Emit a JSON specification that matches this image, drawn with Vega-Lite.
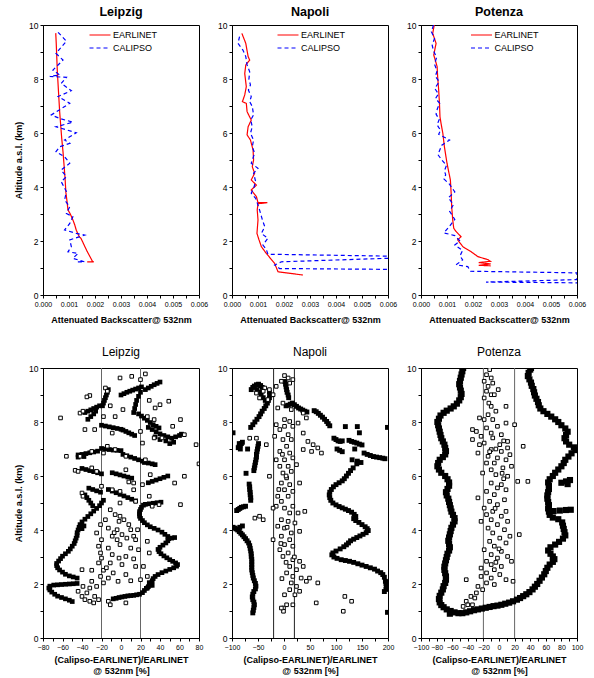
{
"$schema":"https://vega.github.io/schema/vega-lite/v6.json",
"padding":{"left":14,"top":5,"right":5,"bottom":2},
"config":{"font":"Liberation Sans","view":{"stroke":"black","strokeWidth":1},
"axis":{"grid":false,"domainColor":"black","tickColor":"black","tickSize":3,"labelColor":"black","titleColor":"black","labelFontSize":8,"titleFontSize":9,"titleFontWeight":"bold","labelPadding":2,"labelOverlap":false,"labelFlush":false},
"axisX":{"labelFontSize":7,"labelAngle":0,"titlePadding":8},
"axisY":{"labelFontSize":8.5,"titlePadding":5},
"title":{"fontSize":12.5,"fontWeight":"bold","color":"black","offset":3},
"legend":{"labelFontSize":9,"labelColor":"black","padding":0}},
"concat":[
{"width":156,"height":270,"title":{"text":"Leipzig"},"data":{"name":"Lt"},
"mark":{"type":"line","strokeWidth":1.2,"clip":true},
"encoding":{
"x":{"field":"b","type":"quantitative","scale":{"domain":[0,0.006],"nice":false},"axis":{"title":"Attenuated Backscatter@ 532nm","tickCount":50,"values":[0,0.0005,0.001,0.0015,0.002,0.0025,0.003,0.0035,0.004,0.0045,0.005,0.0055,0.006],"labelExpr":"abs(round(datum.value*1000)-datum.value*1000)<0.01 ? format(datum.value,'.3f') : ''"}},
"y":{"field":"h","type":"quantitative","scale":{"domain":[0,10],"nice":false},"axis":{"title":"Altitude a.s.l. (km)","tickCount":50,"values":[0,1,2,3,4,5,6,7,8,9,10],"labelExpr":"datum.value % 2 == 0 ? format(datum.value,'d') : ''"}},
"stroke":{"field":"s","type":"nominal","scale":{"domain":["EARLINET","CALIPSO"],"range":["#ff0000","#0000ff"]},"legend":{"orient":"none","legendX":50,"legendY":3,"title":null,"symbolType":"M-1.75,0H1.75","symbolSize":144,"symbolStrokeWidth":1.2,"labelOffset":6,"rowPadding":1,"encode":{"symbols":{"update":{"stroke":{"signal":"datum.value === 'CALIPSO' ? '#0000ff' : '#ff0000'"},"strokeDash":{"signal":"datum.value === 'CALIPSO' ? [4,3] : [1,0]"}}}}}},
"strokeDash":{"field":"s","type":"nominal","scale":{"domain":["EARLINET","CALIPSO"],"range":[[1,0],[4,3]]},"legend":null},
"order":{"value":null}}},
{"width":156,"height":270,"title":{"text":"Napoli"},"data":{"name":"Nt"},
"mark":{"type":"line","strokeWidth":1.2,"clip":true},
"encoding":{
"x":{"field":"b","type":"quantitative","scale":{"domain":[0,0.006],"nice":false},"axis":{"title":"Attenuated Backscatter@ 532nm","tickCount":50,"values":[0,0.0005,0.001,0.0015,0.002,0.0025,0.003,0.0035,0.004,0.0045,0.005,0.0055,0.006],"labelExpr":"abs(round(datum.value*1000)-datum.value*1000)<0.01 ? format(datum.value,'.3f') : ''"}},
"y":{"field":"h","type":"quantitative","scale":{"domain":[0,10],"nice":false},"axis":{"title":null,"tickCount":50,"values":[0,1,2,3,4,5,6,7,8,9,10],"labelExpr":"datum.value % 2 == 0 ? format(datum.value,'d') : ''"}},
"stroke":{"field":"s","type":"nominal","scale":{"domain":["EARLINET","CALIPSO"],"range":["#ff0000","#0000ff"]},"legend":{"orient":"none","legendX":49,"legendY":3,"title":null,"symbolType":"M-1.75,0H1.75","symbolSize":144,"symbolStrokeWidth":1.2,"labelOffset":6,"rowPadding":1,"encode":{"symbols":{"update":{"stroke":{"signal":"datum.value === 'CALIPSO' ? '#0000ff' : '#ff0000'"},"strokeDash":{"signal":"datum.value === 'CALIPSO' ? [4,3] : [1,0]"}}}}}},
"strokeDash":{"field":"s","type":"nominal","scale":{"domain":["EARLINET","CALIPSO"],"range":[[1,0],[4,3]]},"legend":null},
"order":{"value":null}}},
{"width":156,"height":270,"title":{"text":"Potenza"},"data":{"name":"Pt"},
"mark":{"type":"line","strokeWidth":1.2,"clip":true},
"encoding":{
"x":{"field":"b","type":"quantitative","scale":{"domain":[0,0.006],"nice":false},"axis":{"title":"Attenuated Backscatter@ 532nm","tickCount":50,"values":[0,0.0005,0.001,0.0015,0.002,0.0025,0.003,0.0035,0.004,0.0045,0.005,0.0055,0.006],"labelExpr":"abs(round(datum.value*1000)-datum.value*1000)<0.01 ? format(datum.value,'.3f') : ''"}},
"y":{"field":"h","type":"quantitative","scale":{"domain":[0,10],"nice":false},"axis":{"title":null,"tickCount":50,"values":[0,1,2,3,4,5,6,7,8,9,10],"labelExpr":"datum.value % 2 == 0 ? format(datum.value,'d') : ''"}},
"stroke":{"field":"s","type":"nominal","scale":{"domain":["EARLINET","CALIPSO"],"range":["#ff0000","#0000ff"]},"legend":{"orient":"none","legendX":53.5,"legendY":3,"title":null,"symbolType":"M-1.75,0H1.75","symbolSize":144,"symbolStrokeWidth":1.2,"labelOffset":6,"rowPadding":1,"encode":{"symbols":{"update":{"stroke":{"signal":"datum.value === 'CALIPSO' ? '#0000ff' : '#ff0000'"},"strokeDash":{"signal":"datum.value === 'CALIPSO' ? [4,3] : [1,0]"}}}}}},
"strokeDash":{"field":"s","type":"nominal","scale":{"domain":["EARLINET","CALIPSO"],"range":[[1,0],[4,3]]},"legend":null},
"order":{"value":null}}},
{"width":156,"height":270,"title":{"text":"Leipzig","fontWeight":"normal","fontSize":12,"offset":5},
"layer":[
{"data":{"values":[{"x":-20},{"x":20}]},"mark":{"type":"rule","color":"#666","strokeWidth":1},"encoding":{"x":{"field":"x","type":"quantitative","scale":{"domain":[-80,80],"nice":false},"axis":{"title":["(Calipso-EARLINET)/EARLINET","@ 532nm [%]"],"titleLineHeight":11,"titlePadding":5,"tickCount":50,"values":[-80,-70,-60,-50,-40,-30,-20,-10,0,10,20,30,40,50,60,70,80],"labelExpr":"datum.value % 20 == 0 ? format(datum.value,'d') : ''"}}}},
{"data":{"name":"Lf"},"mark":{"type":"square","color":"black","size":22,"opacity":1,"clip":true},
"encoding":{"x":{"field":"x","type":"quantitative","scale":{"domain":[-80,80],"nice":false},"axis":{"title":["(Calipso-EARLINET)/EARLINET","@ 532nm [%]"],"titleLineHeight":11,"titlePadding":5,"tickCount":50,"values":[-80,-70,-60,-50,-40,-30,-20,-10,0,10,20,30,40,50,60,70,80],"labelExpr":"datum.value % 20 == 0 ? format(datum.value,'d') : ''"}},
"y":{"field":"h","type":"quantitative","scale":{"domain":[0,10],"nice":false},"axis":{"title":"Altitude a.s.l. (km)","tickCount":50,"values":[0,1,2,3,4,5,6,7,8,9,10],"labelExpr":"datum.value % 2 == 0 ? format(datum.value,'d') : ''"}}}},
{"data":{"name":"Lo"},"mark":{"type":"square","fill":"white","stroke":"black","strokeWidth":1,"size":13,"opacity":1,"clip":true},
"encoding":{"x":{"field":"x","type":"quantitative","scale":{"domain":[-80,80],"nice":false},"axis":{"title":["(Calipso-EARLINET)/EARLINET","@ 532nm [%]"],"titleLineHeight":11,"titlePadding":5,"tickCount":50,"values":[-80,-70,-60,-50,-40,-30,-20,-10,0,10,20,30,40,50,60,70,80],"labelExpr":"datum.value % 20 == 0 ? format(datum.value,'d') : ''"}},"y":{"field":"h","type":"quantitative","scale":{"domain":[0,10],"nice":false},"axis":{"title":"Altitude a.s.l. (km)","tickCount":50,"values":[0,1,2,3,4,5,6,7,8,9,10],"labelExpr":"datum.value % 2 == 0 ? format(datum.value,'d') : ''"}}}}]},
{"width":156,"height":270,"title":{"text":"Napoli","fontWeight":"normal","fontSize":12,"offset":5},
"layer":[
{"data":{"values":[{"x":-20},{"x":20}]},"mark":{"type":"rule","color":"#222","strokeWidth":1},"encoding":{"x":{"field":"x","type":"quantitative","scale":{"domain":[-100,200],"nice":false},"axis":{"title":["(Calipso-EARLINET)/EARLINET","@ 532nm [%]"],"titleLineHeight":11,"titlePadding":5,"tickCount":50,"values":[-100,-75,-50,-25,0,25,50,75,100,125,150,175,200],"labelExpr":"datum.value % 50 == 0 ? format(datum.value,'d') : ''"}}}},
{"data":{"name":"Nf"},"mark":{"type":"square","color":"black","size":24,"opacity":1,"clip":true},
"encoding":{"x":{"field":"x","type":"quantitative","scale":{"domain":[-100,200],"nice":false},"axis":{"title":["(Calipso-EARLINET)/EARLINET","@ 532nm [%]"],"titleLineHeight":11,"titlePadding":5,"tickCount":50,"values":[-100,-75,-50,-25,0,25,50,75,100,125,150,175,200],"labelExpr":"datum.value % 50 == 0 ? format(datum.value,'d') : ''"}},
"y":{"field":"h","type":"quantitative","scale":{"domain":[0,10],"nice":false},"axis":{"title":null,"tickCount":50,"values":[0,1,2,3,4,5,6,7,8,9,10],"labelExpr":"datum.value % 2 == 0 ? format(datum.value,'d') : ''"}}}},
{"data":{"name":"No"},"mark":{"type":"square","fill":"white","stroke":"black","strokeWidth":1,"size":13,"opacity":1,"clip":true},
"encoding":{"x":{"field":"x","type":"quantitative","scale":{"domain":[-100,200],"nice":false},"axis":{"title":["(Calipso-EARLINET)/EARLINET","@ 532nm [%]"],"titleLineHeight":11,"titlePadding":5,"tickCount":50,"values":[-100,-75,-50,-25,0,25,50,75,100,125,150,175,200],"labelExpr":"datum.value % 50 == 0 ? format(datum.value,'d') : ''"}},"y":{"field":"h","type":"quantitative","scale":{"domain":[0,10],"nice":false},"axis":{"title":null,"tickCount":50,"values":[0,1,2,3,4,5,6,7,8,9,10],"labelExpr":"datum.value % 2 == 0 ? format(datum.value,'d') : ''"}}}}]},
{"width":156,"height":270,"title":{"text":"Potenza","fontWeight":"normal","fontSize":12,"offset":5},
"layer":[
{"data":{"values":[{"x":-20},{"x":20}]},"mark":{"type":"rule","color":"#666","strokeWidth":1},"encoding":{"x":{"field":"x","type":"quantitative","scale":{"domain":[-100,100],"nice":false},"axis":{"title":["(Calipso-EARLINET)/EARLINET","@ 532nm [%]"],"titleLineHeight":11,"titlePadding":5,"tickCount":50,"values":[-100,-90,-80,-70,-60,-50,-40,-30,-20,-10,0,10,20,30,40,50,60,70,80,90,100],"labelExpr":"datum.value % 20 == 0 ? format(datum.value,'d') : ''"}}}},
{"data":{"name":"Pf"},"mark":{"type":"square","color":"black","size":38,"opacity":1,"clip":true},
"encoding":{"x":{"field":"x","type":"quantitative","scale":{"domain":[-100,100],"nice":false},"axis":{"title":["(Calipso-EARLINET)/EARLINET","@ 532nm [%]"],"titleLineHeight":11,"titlePadding":5,"tickCount":50,"values":[-100,-90,-80,-70,-60,-50,-40,-30,-20,-10,0,10,20,30,40,50,60,70,80,90,100],"labelExpr":"datum.value % 20 == 0 ? format(datum.value,'d') : ''"}},
"y":{"field":"h","type":"quantitative","scale":{"domain":[0,10],"nice":false},"axis":{"title":null,"tickCount":50,"values":[0,1,2,3,4,5,6,7,8,9,10],"labelExpr":"datum.value % 2 == 0 ? format(datum.value,'d') : ''"}}}},
{"data":{"name":"Po"},"mark":{"type":"square","fill":"white","stroke":"black","strokeWidth":1,"size":13,"opacity":1,"clip":true},
"encoding":{"x":{"field":"x","type":"quantitative","scale":{"domain":[-100,100],"nice":false},"axis":{"title":["(Calipso-EARLINET)/EARLINET","@ 532nm [%]"],"titleLineHeight":11,"titlePadding":5,"tickCount":50,"values":[-100,-90,-80,-70,-60,-50,-40,-30,-20,-10,0,10,20,30,40,50,60,70,80,90,100],"labelExpr":"datum.value % 20 == 0 ? format(datum.value,'d') : ''"}},"y":{"field":"h","type":"quantitative","scale":{"domain":[0,10],"nice":false},"axis":{"title":null,"tickCount":50,"values":[0,1,2,3,4,5,6,7,8,9,10],"labelExpr":"datum.value % 2 == 0 ? format(datum.value,'d') : ''"}}}}]}
],
"columns":3,
"spacing":{"row":73,"column":33},
"bounds":"flush",
"resolve":{"scale":{"stroke":"independent","strokeDash":"independent"}},
"datasets":{
"Lt":[
{"s":"EARLINET","b":0.00049,"h":9.7},{"s":"EARLINET","b":0.00051,"h":9.3},{"s":"EARLINET","b":0.00053,"h":8.8},{"s":"EARLINET","b":0.00055,"h":8.3},{"s":"EARLINET","b":0.00058,"h":7.8},{"s":"EARLINET","b":0.00061,"h":7.3},{"s":"EARLINET","b":0.00064,"h":6.8},{"s":"EARLINET","b":0.00068,"h":6.3},{"s":"EARLINET","b":0.00072,"h":5.8},{"s":"EARLINET","b":0.00077,"h":5.3},{"s":"EARLINET","b":0.00081,"h":4.8},{"s":"EARLINET","b":0.00085,"h":4.3},{"s":"EARLINET","b":0.00088,"h":3.8},{"s":"EARLINET","b":0.00092,"h":3.5},{"s":"EARLINET","b":0.00096,"h":3.15},{"s":"EARLINET","b":0.00105,"h":3.0},{"s":"EARLINET","b":0.00115,"h":2.78},{"s":"EARLINET","b":0.00122,"h":2.6},{"s":"EARLINET","b":0.00128,"h":2.4},{"s":"EARLINET","b":0.0014,"h":2.15},{"s":"EARLINET","b":0.00146,"h":2.1},{"s":"EARLINET","b":0.00168,"h":1.65},{"s":"EARLINET","b":0.0019,"h":1.25},{"s":"EARLINET","b":0.00195,"h":1.23},{"s":"EARLINET","b":0.0017,"h":1.23},
{"s":"CALIPSO","b":0.00058,"h":9.73},{"s":"CALIPSO","b":0.0009,"h":9.4},{"s":"CALIPSO","b":0.0005,"h":8.95},{"s":"CALIPSO","b":0.00077,"h":8.7},{"s":"CALIPSO","b":0.00038,"h":8.33},{"s":"CALIPSO","b":0.00064,"h":8.15},{"s":"CALIPSO","b":0.00026,"h":8.1},{"s":"CALIPSO","b":0.0009,"h":8.06},{"s":"CALIPSO","b":0.0007,"h":7.84},{"s":"CALIPSO","b":0.00109,"h":7.57},{"s":"CALIPSO","b":0.00058,"h":7.35},{"s":"CALIPSO","b":0.00103,"h":7.1},{"s":"CALIPSO","b":0.0007,"h":6.9},{"s":"CALIPSO","b":0.00032,"h":6.67},{"s":"CALIPSO","b":0.00064,"h":6.54},{"s":"CALIPSO","b":0.00115,"h":6.4},{"s":"CALIPSO","b":0.0005,"h":6.23},{"s":"CALIPSO","b":0.00128,"h":6.01},{"s":"CALIPSO","b":0.00083,"h":5.74},{"s":"CALIPSO","b":0.00103,"h":5.62},{"s":"CALIPSO","b":0.00064,"h":5.49},{"s":"CALIPSO","b":0.0005,"h":5.31},{"s":"CALIPSO","b":0.00083,"h":5.12},{"s":"CALIPSO","b":0.00103,"h":4.88},{"s":"CALIPSO","b":0.0007,"h":4.63},{"s":"CALIPSO","b":0.0009,"h":4.38},{"s":"CALIPSO","b":0.0007,"h":4.2},{"s":"CALIPSO","b":0.0009,"h":3.83},{"s":"CALIPSO","b":0.00083,"h":3.52},{"s":"CALIPSO","b":0.00103,"h":3.27},{"s":"CALIPSO","b":0.0009,"h":3.02},{"s":"CALIPSO","b":0.00115,"h":2.9},{"s":"CALIPSO","b":0.00103,"h":2.65},{"s":"CALIPSO","b":0.00083,"h":2.41},{"s":"CALIPSO","b":0.00128,"h":2.28},{"s":"CALIPSO","b":0.0016,"h":2.22},{"s":"CALIPSO","b":0.00103,"h":2.04},{"s":"CALIPSO","b":0.00109,"h":1.79},{"s":"CALIPSO","b":0.00096,"h":1.6},{"s":"CALIPSO","b":0.00135,"h":1.54},{"s":"CALIPSO","b":0.00115,"h":1.36},{"s":"CALIPSO","b":0.0016,"h":1.23},{"s":"CALIPSO","b":0.0013,"h":1.23}],
"Nt":[
{"s":"EARLINET","b":0.00038,"h":9.69},{"s":"EARLINET","b":0.00053,"h":9.32},{"s":"EARLINET","b":0.00062,"h":8.83},{"s":"EARLINET","b":0.00068,"h":8.7},{"s":"EARLINET","b":0.00053,"h":8.52},{"s":"EARLINET","b":0.00049,"h":8.2},{"s":"EARLINET","b":0.00055,"h":7.72},{"s":"EARLINET","b":0.00049,"h":7.41},{"s":"EARLINET","b":0.0004,"h":7.16},{"s":"EARLINET","b":0.00055,"h":7.1},{"s":"EARLINET","b":0.00058,"h":6.79},{"s":"EARLINET","b":0.00074,"h":6.48},{"s":"EARLINET","b":0.00062,"h":6.23},{"s":"EARLINET","b":0.00058,"h":5.93},{"s":"EARLINET","b":0.00071,"h":5.74},{"s":"EARLINET","b":0.00081,"h":5.37},{"s":"EARLINET","b":0.00083,"h":5.0},{"s":"EARLINET","b":0.00078,"h":4.75},{"s":"EARLINET","b":0.00087,"h":4.51},{"s":"EARLINET","b":0.00074,"h":4.26},{"s":"EARLINET","b":0.00094,"h":4.07},{"s":"EARLINET","b":0.00074,"h":3.89},{"s":"EARLINET","b":0.00094,"h":3.64},{"s":"EARLINET","b":0.001,"h":3.42},{"s":"EARLINET","b":0.00136,"h":3.42},{"s":"EARLINET","b":0.001,"h":3.38},{"s":"EARLINET","b":0.00097,"h":3.15},{"s":"EARLINET","b":0.001,"h":2.78},{"s":"EARLINET","b":0.00096,"h":2.28},{"s":"EARLINET","b":0.00104,"h":2.04},{"s":"EARLINET","b":0.00113,"h":1.79},{"s":"EARLINET","b":0.00132,"h":1.54},{"s":"EARLINET","b":0.00164,"h":1.17},{"s":"EARLINET","b":0.00177,"h":0.86},{"s":"EARLINET","b":0.00273,"h":0.74},
{"s":"CALIPSO","b":0.00029,"h":9.57},{"s":"CALIPSO","b":0.00023,"h":9.32},{"s":"CALIPSO","b":0.00042,"h":9.07},{"s":"CALIPSO","b":0.00053,"h":8.83},{"s":"CALIPSO","b":0.00058,"h":8.52},{"s":"CALIPSO","b":0.00068,"h":8.27},{"s":"CALIPSO","b":0.00065,"h":7.99},{"s":"CALIPSO","b":0.00071,"h":7.78},{"s":"CALIPSO","b":0.00063,"h":7.59},{"s":"CALIPSO","b":0.00074,"h":7.35},{"s":"CALIPSO","b":0.00068,"h":7.16},{"s":"CALIPSO","b":0.00078,"h":6.98},{"s":"CALIPSO","b":0.00083,"h":6.67},{"s":"CALIPSO","b":0.00072,"h":6.48},{"s":"CALIPSO","b":0.00078,"h":6.23},{"s":"CALIPSO","b":0.00071,"h":5.99},{"s":"CALIPSO","b":0.00083,"h":5.74},{"s":"CALIPSO","b":0.00078,"h":5.49},{"s":"CALIPSO","b":0.00087,"h":5.25},{"s":"CALIPSO","b":0.00074,"h":4.88},{"s":"CALIPSO","b":0.001,"h":4.69},{"s":"CALIPSO","b":0.00083,"h":4.51},{"s":"CALIPSO","b":0.00091,"h":4.2},{"s":"CALIPSO","b":0.00083,"h":3.95},{"s":"CALIPSO","b":0.00074,"h":3.77},{"s":"CALIPSO","b":0.00091,"h":3.58},{"s":"CALIPSO","b":0.001,"h":3.33},{"s":"CALIPSO","b":0.00106,"h":3.15},{"s":"CALIPSO","b":0.00117,"h":2.78},{"s":"CALIPSO","b":0.00126,"h":2.53},{"s":"CALIPSO","b":0.00113,"h":2.28},{"s":"CALIPSO","b":0.00138,"h":2.1},{"s":"CALIPSO","b":0.00119,"h":1.85},{"s":"CALIPSO","b":0.00132,"h":1.69},{"s":"CALIPSO","b":0.00138,"h":1.51},{"s":"CALIPSO","b":0.006,"h":1.44},{"s":"CALIPSO","b":0.006,"h":1.36},{"s":"CALIPSO","b":0.0019,"h":1.23},{"s":"CALIPSO","b":0.00164,"h":1.11},{"s":"CALIPSO","b":0.00183,"h":0.98},{"s":"CALIPSO","b":0.006,"h":0.95}],
"Pt":[
{"s":"EARLINET","b":0.00051,"h":10.0},{"s":"EARLINET","b":0.00045,"h":9.69},{"s":"EARLINET","b":0.00058,"h":9.32},{"s":"EARLINET","b":0.00049,"h":8.89},{"s":"EARLINET","b":0.00062,"h":8.46},{"s":"EARLINET","b":0.00064,"h":8.09},{"s":"EARLINET","b":0.00068,"h":7.59},{"s":"EARLINET","b":0.00071,"h":7.1},{"s":"EARLINET","b":0.00073,"h":6.6},{"s":"EARLINET","b":0.00077,"h":6.36},{"s":"EARLINET","b":0.00084,"h":5.99},{"s":"EARLINET","b":0.0009,"h":5.49},{"s":"EARLINET","b":0.001,"h":4.88},{"s":"EARLINET","b":0.00113,"h":4.26},{"s":"EARLINET","b":0.00116,"h":3.77},{"s":"EARLINET","b":0.00118,"h":3.27},{"s":"EARLINET","b":0.00122,"h":2.78},{"s":"EARLINET","b":0.00126,"h":2.47},{"s":"EARLINET","b":0.00135,"h":2.35},{"s":"EARLINET","b":0.00154,"h":2.16},{"s":"EARLINET","b":0.00141,"h":2.04},{"s":"EARLINET","b":0.00161,"h":1.79},{"s":"EARLINET","b":0.00193,"h":1.6},{"s":"EARLINET","b":0.00219,"h":1.42},{"s":"EARLINET","b":0.00257,"h":1.31},{"s":"EARLINET","b":0.00267,"h":1.25},{"s":"EARLINET","b":0.00222,"h":1.2},{"s":"EARLINET","b":0.00268,"h":1.15},{"s":"EARLINET","b":0.00222,"h":1.1},{"s":"EARLINET","b":0.00268,"h":1.08},
{"s":"CALIPSO","b":0.00048,"h":10.0},{"s":"CALIPSO","b":0.0004,"h":9.75},{"s":"CALIPSO","b":0.00052,"h":9.5},{"s":"CALIPSO","b":0.00043,"h":9.25},{"s":"CALIPSO","b":0.00048,"h":9.05},{"s":"CALIPSO","b":0.0006,"h":8.8},{"s":"CALIPSO","b":0.00052,"h":8.55},{"s":"CALIPSO","b":0.00062,"h":8.3},{"s":"CALIPSO","b":0.00055,"h":8.1},{"s":"CALIPSO","b":0.0007,"h":7.9},{"s":"CALIPSO","b":0.00053,"h":7.65},{"s":"CALIPSO","b":0.00067,"h":7.45},{"s":"CALIPSO","b":0.00056,"h":7.28},{"s":"CALIPSO","b":0.00072,"h":7.1},{"s":"CALIPSO","b":0.00063,"h":6.9},{"s":"CALIPSO","b":0.00058,"h":6.7},{"s":"CALIPSO","b":0.0007,"h":6.5},{"s":"CALIPSO","b":0.00062,"h":6.3},{"s":"CALIPSO","b":0.00075,"h":6.1},{"s":"CALIPSO","b":0.00068,"h":5.95},{"s":"CALIPSO","b":0.0011,"h":5.74},{"s":"CALIPSO","b":0.0008,"h":5.55},{"s":"CALIPSO","b":0.00065,"h":5.2},{"s":"CALIPSO","b":0.0008,"h":5.0},{"s":"CALIPSO","b":0.00098,"h":4.8},{"s":"CALIPSO","b":0.0009,"h":4.6},{"s":"CALIPSO","b":0.00095,"h":4.45},{"s":"CALIPSO","b":0.00088,"h":4.3},{"s":"CALIPSO","b":0.0011,"h":4.1},{"s":"CALIPSO","b":0.0013,"h":3.82},{"s":"CALIPSO","b":0.00105,"h":3.6},{"s":"CALIPSO","b":0.00125,"h":3.35},{"s":"CALIPSO","b":0.0011,"h":3.1},{"s":"CALIPSO","b":0.0013,"h":2.8},{"s":"CALIPSO","b":0.0011,"h":2.55},{"s":"CALIPSO","b":0.00088,"h":2.3},{"s":"CALIPSO","b":0.0013,"h":2.2},{"s":"CALIPSO","b":0.0015,"h":2.0},{"s":"CALIPSO","b":0.0013,"h":1.85},{"s":"CALIPSO","b":0.0016,"h":1.65},{"s":"CALIPSO","b":0.0015,"h":1.45},{"s":"CALIPSO","b":0.0016,"h":1.3},{"s":"CALIPSO","b":0.00135,"h":1.12},{"s":"CALIPSO","b":0.0018,"h":1.05},{"s":"CALIPSO","b":0.0019,"h":0.88},{"s":"CALIPSO","b":0.006,"h":0.82},{"s":"CALIPSO","b":0.006,"h":0.57},{"s":"CALIPSO","b":0.0025,"h":0.48},{"s":"CALIPSO","b":0.006,"h":0.45}],
"Lf":[
{"x":-50,"h":1.35},{"x":-53,"h":1.4},{"x":-57,"h":1.45},{"x":-61,"h":1.5},{"x":-65,"h":1.55},{"x":-68,"h":1.62},{"x":-71,"h":1.7},{"x":-73,"h":1.78},{"x":-74,"h":1.85},{"x":-73,"h":1.92},{"x":-69,"h":1.96},{"x":-65,"h":1.97},{"x":-61,"h":1.98},{"x":-57,"h":1.99},{"x":-53,"h":2.0},{"x":-49,"h":2.01},{"x":-45,"h":2.02},
{"x":-45,"h":2.22},{"x":-49,"h":2.26},{"x":-53,"h":2.3},{"x":-57,"h":2.36},{"x":-60,"h":2.44},{"x":-63,"h":2.52},{"x":-65,"h":2.6},{"x":-66,"h":2.68},{"x":-66,"h":2.76},{"x":-64,"h":2.85},{"x":-62,"h":2.94},{"x":-60,"h":3.03},{"x":-57,"h":3.12},{"x":-54,"h":3.21},{"x":-52,"h":3.3},{"x":-50,"h":3.4},{"x":-48,"h":3.5},{"x":-47,"h":3.6},{"x":-46,"h":3.7},{"x":-45,"h":3.8},{"x":-45,"h":3.9},{"x":-44,"h":4.0},{"x":-43,"h":4.1},{"x":-42,"h":4.2},{"x":-40,"h":4.3},{"x":-37,"h":4.4},{"x":-34,"h":4.5},{"x":-31,"h":4.6},{"x":-28,"h":4.7},{"x":-25,"h":4.8},{"x":-22,"h":4.9},{"x":-20,"h":5.0},{"x":-18,"h":5.1},{"x":-40,"h":4.05},{"x":-38,"h":4.15},
{"x":-8,"h":1.45},{"x":-5,"h":1.47},{"x":-2,"h":1.5},{"x":1,"h":1.52},{"x":4,"h":1.54},{"x":7,"h":1.56},{"x":10,"h":1.57},{"x":13,"h":1.58},{"x":16,"h":1.6},{"x":19,"h":1.62},{"x":22,"h":1.68},{"x":24,"h":1.76},{"x":26,"h":1.84},{"x":28,"h":1.9},{"x":30,"h":1.96},{"x":31,"h":2.04},{"x":32,"h":2.12},{"x":33,"h":2.2},{"x":35,"h":2.28},{"x":38,"h":2.35},{"x":42,"h":2.42},{"x":46,"h":2.48},{"x":50,"h":2.54},{"x":54,"h":2.6},{"x":57,"h":2.66},{"x":58,"h":2.72},{"x":56,"h":2.78},{"x":53,"h":2.84},{"x":50,"h":2.9},{"x":47,"h":2.97},{"x":44,"h":3.04},{"x":41,"h":3.12},{"x":39,"h":3.2},{"x":38,"h":3.28},{"x":40,"h":3.36},{"x":43,"h":3.44},{"x":46,"h":3.52},{"x":48,"h":3.6},{"x":49,"h":3.68},{"x":48,"h":3.76},{"x":45,"h":3.84},{"x":42,"h":3.92},{"x":38,"h":4.0},{"x":34,"h":4.06},{"x":30,"h":4.12},{"x":27,"h":4.19},{"x":24,"h":4.27},{"x":22,"h":4.35},{"x":20,"h":4.43},{"x":19,"h":4.51},{"x":19,"h":4.6},{"x":19,"h":4.68},{"x":20,"h":4.76},{"x":21,"h":4.84},{"x":23,"h":4.92},{"x":27,"h":1.85},{"x":32,"h":1.95},{"x":29,"h":2.05},{"x":52,"h":3.7},{"x":55,"h":3.72},
{"x":25,"h":9.2},{"x":28,"h":9.26},{"x":31,"h":9.32},{"x":34,"h":9.38},{"x":37,"h":9.43},{"x":40,"h":9.48},
{"x":0,"h":9.0},{"x":3,"h":9.05},{"x":6,"h":9.1},{"x":9,"h":9.14},{"x":12,"h":9.18},{"x":15,"h":9.22},{"x":18,"h":9.26},{"x":21,"h":9.3},
{"x":-19,"h":8.6},{"x":-18,"h":8.7},{"x":-17,"h":8.8},{"x":-16,"h":8.9},{"x":-15,"h":9.0},{"x":-14,"h":9.1},{"x":-13,"h":9.2},
{"x":20,"h":9.1},{"x":18,"h":8.95},{"x":16,"h":8.8},{"x":15,"h":8.65},{"x":14,"h":8.5},{"x":13,"h":8.35},
{"x":-37,"h":8.35},{"x":-34,"h":8.4},{"x":-31,"h":8.45},{"x":-28,"h":8.5},{"x":-25,"h":8.55},{"x":-22,"h":8.6},
{"x":18,"h":8.3},{"x":21,"h":8.22},{"x":24,"h":8.14},{"x":27,"h":8.06},{"x":30,"h":7.98},{"x":33,"h":7.9},{"x":36,"h":7.84},{"x":39,"h":7.78},
{"x":-20,"h":7.88},{"x":-16,"h":7.85},{"x":-12,"h":7.82},{"x":-8,"h":7.79},{"x":-4,"h":7.76},{"x":0,"h":7.73},
{"x":2,"h":7.7},{"x":5,"h":7.65},{"x":8,"h":7.6},{"x":11,"h":7.55},{"x":14,"h":7.5},
{"x":28,"h":7.8},{"x":32,"h":7.72},{"x":36,"h":7.64},{"x":40,"h":7.56},{"x":44,"h":7.5},{"x":48,"h":7.45},{"x":52,"h":7.4},{"x":56,"h":7.45},{"x":60,"h":7.5},{"x":62,"h":7.55},{"x":46,"h":7.3},{"x":50,"h":7.2},{"x":54,"h":7.25},{"x":40,"h":7.35},{"x":35,"h":7.45},
{"x":-20,"h":7.02},{"x":-16,"h":7.0},{"x":-12,"h":6.98},{"x":-8,"h":6.96},{"x":-4,"h":6.95},{"x":0,"h":6.94},
{"x":-44,"h":6.78},{"x":-40,"h":6.8},{"x":-36,"h":6.83},{"x":-32,"h":6.86},{"x":-28,"h":6.89},{"x":-24,"h":6.92},{"x":-44,"h":6.7},{"x":-38,"h":6.72},
{"x":2,"h":6.8},{"x":6,"h":6.75},{"x":10,"h":6.7},{"x":14,"h":6.65},{"x":18,"h":6.6},{"x":22,"h":6.55},
{"x":24,"h":6.5},{"x":28,"h":6.48},{"x":32,"h":6.45},{"x":35,"h":6.42},
{"x":-40,"h":6.28},{"x":-36,"h":6.24},{"x":-32,"h":6.2},{"x":-28,"h":6.16},{"x":-24,"h":6.12},{"x":-20,"h":6.08},
{"x":-9,"h":6.12},{"x":-5,"h":6.08},{"x":-1,"h":6.04},{"x":3,"h":6.0},{"x":7,"h":5.96},{"x":11,"h":5.92},
{"x":28,"h":5.75},{"x":32,"h":5.8},{"x":36,"h":5.85},{"x":40,"h":5.9},{"x":44,"h":5.95},{"x":48,"h":6.0},
{"x":-33,"h":5.55},{"x":-29,"h":5.5},{"x":-25,"h":5.45},{"x":-21,"h":5.4},
{"x":-13,"h":5.5},{"x":-9,"h":5.44},{"x":-5,"h":5.38},{"x":-1,"h":5.32},{"x":3,"h":5.26},{"x":7,"h":5.2},{"x":11,"h":5.14},{"x":15,"h":5.08},
{"x":25,"h":4.95},{"x":29,"h":4.97},{"x":33,"h":4.99},{"x":37,"h":5.01},{"x":41,"h":5.03},
{"x":-37,"h":5.3},{"x":-35,"h":5.2},{"x":-33,"h":5.1},{"x":-31,"h":5.0},{"x":-29,"h":4.9},
{"x":-34,"h":8.1},{"x":-31,"h":8.2},{"x":-28,"h":8.3},{"x":-26,"h":8.4}],
"Lo":[
{"x":-1,"h":9.63},{"x":11,"h":9.69},{"x":25,"h":9.78},{"x":20,"h":9.57},{"x":-16,"h":9.26},{"x":-14,"h":9.14},{"x":-32,"h":8.98},{"x":-35,"h":8.93},{"x":-11,"h":8.6},{"x":2,"h":8.46},{"x":29,"h":8.8},{"x":40,"h":8.64},{"x":49,"h":8.77},{"x":35,"h":8.52},{"x":-42,"h":8.33},{"x":-39,"h":8.4},{"x":-62,"h":8.15},{"x":-18,"h":8.2},{"x":-6,"h":8.2},{"x":27,"h":8.2},{"x":34,"h":8.09},{"x":61,"h":8.09},{"x":53,"h":7.84},{"x":-37,"h":7.72},{"x":-27,"h":7.72},{"x":-9,"h":7.59},{"x":20,"h":7.65},{"x":34,"h":7.41},{"x":42,"h":7.41},{"x":65,"h":7.53},{"x":77,"h":7.16},{"x":22,"h":7.22},{"x":-14,"h":7.1},{"x":-6,"h":6.98},{"x":-30,"h":6.91},{"x":-56,"h":6.73},{"x":-42,"h":6.73},{"x":-18,"h":6.85},{"x":5,"h":6.73},{"x":25,"h":6.6},{"x":80,"h":6.45},{"x":-47,"h":6.21},{"x":-44,"h":6.17},{"x":-30,"h":6.3},{"x":-25,"h":6.17},{"x":5,"h":6.23},{"x":30,"h":6.05},{"x":65,"h":5.99},{"x":8,"h":5.78},{"x":13,"h":5.74},{"x":55,"h":5.74},{"x":-40,"h":5.37},{"x":-39,"h":5.25},{"x":-20,"h":5.62},{"x":-9,"h":5.49},{"x":-1,"h":5.43},{"x":13,"h":5.49},{"x":22,"h":5.68},{"x":29,"h":5.25},{"x":39,"h":4.94},{"x":61,"h":4.94},{"x":-1,"h":5.0},{"x":15,"h":5.06},{"x":32,"h":4.88},
{"x":-11,"h":4.75},{"x":-6,"h":4.57},{"x":-1,"h":4.51},{"x":-16,"h":4.38},{"x":-2,"h":4.32},{"x":3,"h":4.38},{"x":-21,"h":4.2},{"x":-13,"h":4.07},{"x":-4,"h":4.01},{"x":10,"h":4.01},{"x":17,"h":4.01},{"x":-25,"h":3.89},{"x":-9,"h":3.77},{"x":1,"h":3.83},{"x":13,"h":3.77},{"x":-20,"h":3.64},{"x":-4,"h":3.64},{"x":6,"h":3.7},{"x":15,"h":3.64},{"x":27,"h":3.58},{"x":-23,"h":3.4},{"x":-13,"h":3.33},{"x":-1,"h":3.46},{"x":10,"h":3.33},{"x":18,"h":3.27},{"x":29,"h":3.15},{"x":-21,"h":3.15},{"x":-9,"h":3.09},{"x":5,"h":3.02},{"x":-20,"h":2.96},{"x":-2,"h":2.96},{"x":13,"h":2.93},{"x":-23,"h":2.78},{"x":-11,"h":2.78},{"x":1,"h":2.72},{"x":15,"h":2.65},{"x":23,"h":2.65},{"x":-40,"h":2.53},{"x":-30,"h":2.51},{"x":-18,"h":2.51},{"x":-8,"h":2.41},{"x":5,"h":2.35},{"x":-21,"h":2.28},{"x":-13,"h":2.22},{"x":-30,"h":2.1},{"x":-18,"h":2.04},{"x":10,"h":2.12},{"x":20,"h":2.16},{"x":27,"h":2.28},{"x":-39,"h":1.91},{"x":-32,"h":1.85},{"x":-25,"h":1.91},{"x":-44,"h":1.73},{"x":-35,"h":1.67},{"x":-27,"h":1.54},{"x":-40,"h":1.54},{"x":-37,"h":1.42},{"x":-32,"h":1.36},{"x":-23,"h":1.42},{"x":-28,"h":1.3},{"x":-13,"h":1.36},{"x":-11,"h":1.23},{"x":5,"h":1.3},{"x":-7,"h":3.9},{"x":8,"h":4.2},{"x":-15,"h":2.6},{"x":-3,"h":2.1}],
"Nf":[
{"x":-60,"h":0.93},{"x":-59,"h":1.03},{"x":-58,"h":1.13},{"x":-57,"h":1.23},{"x":-58,"h":1.33},{"x":-60,"h":1.42},{"x":-61,"h":1.52},{"x":-60,"h":1.62},{"x":-58,"h":1.72},{"x":-55,"h":1.82},{"x":-54,"h":1.92},{"x":-55,"h":2.02},{"x":-57,"h":2.12},{"x":-59,"h":2.22},{"x":-60,"h":2.32},{"x":-61,"h":2.42},{"x":-62,"h":2.52},{"x":-62,"h":2.62},{"x":-62,"h":2.72},{"x":-62,"h":2.82},{"x":-62,"h":2.92},{"x":-63,"h":3.02},{"x":-63,"h":3.12},{"x":-64,"h":3.22},{"x":-65,"h":3.32},{"x":-66,"h":3.42},{"x":-68,"h":3.52},{"x":-71,"h":3.6},{"x":-74,"h":3.68},{"x":-77,"h":3.75},{"x":-80,"h":3.82},{"x":-83,"h":3.88},{"x":-86,"h":3.94},{"x":-89,"h":4.0},{"x":-92,"h":4.04},{"x":-95,"h":4.07},{"x":-98,"h":4.1},{"x":-85,"h":4.1},{"x":-80,"h":4.15},
{"x":-91,"h":4.72},{"x":-88,"h":4.76},{"x":-85,"h":4.8},{"x":-82,"h":4.84},{"x":-78,"h":4.86},{"x":-74,"h":4.88},
{"x":-64,"h":5.1},{"x":-64,"h":5.2},{"x":-65,"h":5.3},{"x":-65,"h":5.4},{"x":-66,"h":5.5},{"x":-66,"h":5.6},{"x":-67,"h":5.7},{"x":-73,"h":6.1},
{"x":-58,"h":6.2},{"x":-57,"h":6.3},{"x":-56,"h":6.4},{"x":-55,"h":6.5},{"x":-54,"h":6.6},{"x":-53,"h":6.7},{"x":-53,"h":6.8},{"x":-52,"h":6.9},{"x":-51,"h":7.0},{"x":-50,"h":7.1},{"x":-49,"h":7.2},
{"x":-88,"h":7.05},{"x":-86,"h":7.1},{"x":-84,"h":7.15},{"x":-82,"h":7.2},{"x":-80,"h":7.25},{"x":-86,"h":7.2},{"x":-84,"h":7.0},{"x":-70,"h":7.0},{"x":-98,"h":7.6},
{"x":-64,"h":7.8},{"x":-60,"h":7.9},{"x":-56,"h":8.0},{"x":-52,"h":8.1},{"x":-48,"h":8.2},{"x":-45,"h":8.3},{"x":-42,"h":8.4},{"x":-38,"h":8.5},{"x":-35,"h":8.6},{"x":-32,"h":8.7},{"x":-30,"h":8.8},{"x":-28,"h":8.9},{"x":-27,"h":9.0},{"x":-28,"h":9.1},
{"x":-63,"h":9.2},{"x":-60,"h":9.28},{"x":-57,"h":9.33},{"x":-53,"h":9.38},{"x":-49,"h":9.4},{"x":-45,"h":9.35},{"x":-42,"h":9.28},{"x":-52,"h":9.2},{"x":-48,"h":9.1},{"x":-44,"h":9.0},{"x":-40,"h":8.9},{"x":-36,"h":8.8},
{"x":2,"h":9.5},{"x":3,"h":9.4},{"x":4,"h":9.3},{"x":5,"h":9.2},{"x":6,"h":9.1},{"x":8,"h":9.0},{"x":9,"h":8.9},
{"x":4,"h":8.6},{"x":8,"h":8.62},{"x":12,"h":8.66},{"x":16,"h":8.7},{"x":20,"h":8.64},{"x":24,"h":8.58},{"x":28,"h":8.52},{"x":32,"h":8.48},{"x":36,"h":8.44},{"x":40,"h":8.4},{"x":44,"h":8.37},
{"x":58,"h":8.42},{"x":62,"h":8.38},{"x":66,"h":8.32},{"x":70,"h":8.25},{"x":74,"h":8.18},{"x":78,"h":8.1},{"x":82,"h":8.02},{"x":85,"h":7.94},{"x":88,"h":7.86},
{"x":118,"h":7.83},{"x":141,"h":7.83},{"x":145,"h":7.6},{"x":199,"h":7.8},
{"x":96,"h":7.4},{"x":100,"h":7.35},{"x":104,"h":7.3},{"x":108,"h":7.28},{"x":112,"h":7.3},
{"x":125,"h":7.32},{"x":130,"h":7.28},{"x":135,"h":7.25},{"x":140,"h":7.22},{"x":145,"h":7.18},{"x":150,"h":7.15},
{"x":102,"h":7.0},{"x":107,"h":6.95},{"x":112,"h":6.9},{"x":136,"h":7.0},
{"x":154,"h":6.85},{"x":160,"h":6.8},{"x":166,"h":6.76},{"x":172,"h":6.72},{"x":178,"h":6.7},{"x":184,"h":6.68},{"x":190,"h":6.66},{"x":194,"h":6.64},
{"x":131,"h":6.6},{"x":141,"h":6.55},{"x":148,"h":6.5},
{"x":140,"h":6.45},{"x":133,"h":6.3},{"x":128,"h":6.2},{"x":124,"h":6.1},{"x":120,"h":6.0},{"x":116,"h":5.9},{"x":112,"h":5.82},{"x":106,"h":5.75},{"x":100,"h":5.68},{"x":95,"h":5.6},{"x":91,"h":5.5},{"x":88,"h":5.4},{"x":87,"h":5.3},{"x":88,"h":5.2},{"x":90,"h":5.1},{"x":94,"h":5.0},{"x":100,"h":4.93},{"x":106,"h":4.87},{"x":112,"h":4.82},{"x":118,"h":4.77},{"x":124,"h":4.72},{"x":130,"h":4.66},{"x":135,"h":4.58},{"x":138,"h":4.5},{"x":134,"h":4.42},{"x":138,"h":4.35},{"x":144,"h":4.28},{"x":150,"h":4.2},{"x":156,"h":4.12},{"x":160,"h":4.05},{"x":162,"h":3.98},{"x":158,"h":3.9},{"x":152,"h":3.84},{"x":146,"h":3.78},{"x":140,"h":3.72},{"x":134,"h":3.66},{"x":128,"h":3.6},{"x":124,"h":3.52},{"x":120,"h":3.45},{"x":115,"h":3.38},{"x":108,"h":3.3},{"x":100,"h":3.22},{"x":94,"h":3.15},{"x":92,"h":3.08},{"x":96,"h":3.0},{"x":102,"h":2.95},{"x":110,"h":2.9},{"x":118,"h":2.87},{"x":126,"h":2.84},{"x":134,"h":2.8},{"x":142,"h":2.75},{"x":150,"h":2.7},{"x":158,"h":2.65},{"x":166,"h":2.6},{"x":174,"h":2.55},{"x":180,"h":2.48},{"x":186,"h":2.42},{"x":190,"h":2.35},{"x":193,"h":2.25},{"x":195,"h":2.1},{"x":196,"h":2.0},{"x":197,"h":1.9},{"x":196,"h":1.8},{"x":193,"h":1.72},{"x":199,"h":2.07},{"x":199,"h":0.95}],
"No":[
{"x":1,"h":9.72},{"x":8,"h":9.63},{"x":17,"h":9.57},{"x":-5,"h":9.51},{"x":11,"h":9.44},{"x":-15,"h":9.32},{"x":-28,"h":9.2},{"x":-21,"h":9.01},{"x":-37,"h":9.26},{"x":-40,"h":9.14},{"x":-53,"h":9.07},{"x":-47,"h":8.89},{"x":-31,"h":8.83},{"x":-2,"h":8.7},{"x":-12,"h":8.52},{"x":14,"h":8.46},{"x":37,"h":8.33},{"x":43,"h":8.15},{"x":1,"h":8.09},{"x":11,"h":8.02},{"x":27,"h":7.96},{"x":-15,"h":7.9},{"x":1,"h":7.84},{"x":17,"h":7.84},{"x":37,"h":7.59},{"x":-8,"h":7.72},{"x":8,"h":7.53},{"x":-18,"h":7.47},{"x":-53,"h":7.4},{"x":-66,"h":7.4},{"x":-34,"h":7.16},{"x":-2,"h":7.35},{"x":14,"h":7.35},{"x":46,"h":7.28},{"x":56,"h":7.16},{"x":65,"h":7.04},{"x":53,"h":6.91},{"x":72,"h":6.85},{"x":37,"h":6.98},{"x":5,"h":7.1},{"x":-8,"h":6.91},{"x":11,"h":6.85},{"x":-15,"h":6.6},{"x":1,"h":6.6},{"x":17,"h":6.67},{"x":-8,"h":6.36},{"x":8,"h":6.36},{"x":24,"h":6.42},{"x":-2,"h":6.11},{"x":14,"h":6.17},{"x":-28,"h":5.99},{"x":5,"h":5.93},{"x":30,"h":5.74},{"x":-5,"h":5.74},{"x":11,"h":5.68},{"x":1,"h":5.49},{"x":17,"h":5.43},{"x":-12,"h":5.25},{"x":8,"h":5.25},{"x":-5,"h":5.06},{"x":-15,"h":4.88},{"x":-21,"h":4.81},{"x":1,"h":4.81},{"x":17,"h":4.88},{"x":11,"h":4.63},{"x":27,"h":4.63},{"x":40,"h":4.69},{"x":-56,"h":4.44},{"x":-47,"h":4.51},{"x":-40,"h":4.38},{"x":-5,"h":4.38},{"x":8,"h":4.32},{"x":21,"h":4.26},{"x":-12,"h":4.14},{"x":1,"h":4.07},{"x":30,"h":3.95},{"x":14,"h":3.89},{"x":-21,"h":3.64},{"x":-5,"h":3.77},{"x":11,"h":3.64},{"x":1,"h":3.46},{"x":17,"h":3.4},{"x":-8,"h":3.27},{"x":8,"h":3.15},{"x":-2,"h":3.02},{"x":17,"h":2.9},{"x":30,"h":2.84},{"x":37,"h":2.65},{"x":11,"h":2.65},{"x":24,"h":2.53},{"x":5,"h":2.41},{"x":17,"h":2.28},{"x":33,"h":2.22},{"x":49,"h":2.22},{"x":43,"h":2.1},{"x":65,"h":2.04},{"x":14,"h":2.04},{"x":24,"h":1.91},{"x":11,"h":1.79},{"x":30,"h":1.73},{"x":1,"h":1.6},{"x":21,"h":1.6},{"x":5,"h":1.23},{"x":17,"h":1.23},{"x":-1,"h":1.11},{"x":-1,"h":0.99},{"x":-5,"h":1.11},{"x":62,"h":1.3},{"x":117,"h":1.54},{"x":130,"h":1.36},{"x":114,"h":0.99},{"x":-3,"h":6.8},{"x":4,"h":6.0},{"x":-10,"h":5.5},{"x":6,"h":4.1},{"x":-6,"h":3.5},{"x":4,"h":2.8},{"x":20,"h":3.0},{"x":-4,"h":2.2}],
"Pf":[
{"x":-46,"h":10.0},{"x":-47,"h":9.88},{"x":-48,"h":9.76},{"x":-49,"h":9.64},{"x":-50,"h":9.52},{"x":-51,"h":9.4},{"x":-50,"h":9.28},{"x":-49,"h":9.16},{"x":-48,"h":9.04},{"x":-49,"h":8.92},{"x":-51,"h":8.8},{"x":-54,"h":8.68},{"x":-58,"h":8.58},{"x":-62,"h":8.5},{"x":-67,"h":8.42},{"x":-71,"h":8.34},{"x":-75,"h":8.24},{"x":-77,"h":8.12},{"x":-79,"h":8.0},{"x":-78,"h":7.88},{"x":-77,"h":7.76},{"x":-76,"h":7.64},{"x":-75,"h":7.52},{"x":-74,"h":7.4},{"x":-72,"h":7.28},{"x":-70,"h":7.16},{"x":-69,"h":7.04},{"x":-68,"h":6.92},{"x":-69,"h":6.8},{"x":-72,"h":6.7},{"x":-76,"h":6.6},{"x":-78,"h":6.48},{"x":-79,"h":6.36},{"x":-77,"h":6.24},{"x":-74,"h":6.12},{"x":-69,"h":6.0},{"x":-66,"h":5.88},{"x":-64,"h":5.76},{"x":-64,"h":5.64},{"x":-66,"h":5.52},{"x":-68,"h":5.4},{"x":-67,"h":5.28},{"x":-65,"h":5.16},{"x":-64,"h":5.04},{"x":-63,"h":4.92},{"x":-62,"h":4.8},{"x":-61,"h":4.68},{"x":-59,"h":4.56},{"x":-57,"h":4.44},{"x":-57,"h":4.32},{"x":-59,"h":4.2},{"x":-61,"h":4.08},{"x":-62,"h":3.96},{"x":-63,"h":3.84},{"x":-64,"h":3.72},{"x":-65,"h":3.6},{"x":-64,"h":3.48},{"x":-63,"h":3.36},{"x":-64,"h":3.24},{"x":-66,"h":3.12},{"x":-67,"h":3.0},{"x":-68,"h":2.88},{"x":-69,"h":2.76},{"x":-70,"h":2.64},{"x":-70,"h":2.52},{"x":-69,"h":2.4},{"x":-68,"h":2.28},{"x":-68,"h":2.16},{"x":-69,"h":2.04},{"x":-71,"h":1.92},{"x":-72,"h":1.8},{"x":-74,"h":1.68},{"x":-76,"h":1.56},{"x":-77,"h":1.44},{"x":-76,"h":1.32},{"x":-74,"h":1.22},{"x":-71,"h":1.14},{"x":-67,"h":1.06},{"x":-62,"h":1.0},{"x":-57,"h":0.95},{"x":-52,"h":0.92},{"x":-47,"h":0.92},{"x":-42,"h":0.95},{"x":-37,"h":0.99},{"x":-32,"h":1.03},{"x":-27,"h":1.06},{"x":-22,"h":1.09},{"x":-17,"h":1.12},{"x":-12,"h":1.15},{"x":-7,"h":1.18},{"x":-2,"h":1.2},{"x":3,"h":1.23},{"x":8,"h":1.27},{"x":13,"h":1.31},{"x":18,"h":1.36},{"x":23,"h":1.42},{"x":27,"h":1.48},{"x":31,"h":1.55},{"x":35,"h":1.62},{"x":39,"h":1.7},{"x":43,"h":1.8},{"x":46,"h":1.9},{"x":49,"h":2.0},{"x":52,"h":2.12},{"x":55,"h":2.24},{"x":58,"h":2.36},{"x":60,"h":2.48},{"x":62,"h":2.6},{"x":65,"h":2.72},{"x":69,"h":2.82},{"x":71,"h":2.92},{"x":69,"h":3.02},{"x":66,"h":3.12},{"x":63,"h":3.24},{"x":66,"h":3.36},{"x":72,"h":3.46},{"x":77,"h":3.56},{"x":82,"h":3.68},{"x":85,"h":3.8},{"x":84,"h":3.92},{"x":83,"h":4.04},{"x":82,"h":4.16},{"x":81,"h":4.28},{"x":76,"h":4.4},{"x":69,"h":4.46},{"x":65,"h":4.56},{"x":64,"h":4.68},{"x":63,"h":4.8},{"x":64,"h":4.92},{"x":63,"h":5.04},{"x":62,"h":5.16},{"x":62,"h":5.28},{"x":63,"h":5.4},{"x":64,"h":5.52},{"x":64,"h":5.64},{"x":63,"h":5.76},{"x":65,"h":5.88},{"x":69,"h":6.0},{"x":72,"h":6.12},{"x":76,"h":6.24},{"x":80,"h":6.36},{"x":83,"h":6.48},{"x":85,"h":6.6},{"x":89,"h":6.72},{"x":93,"h":6.84},{"x":98,"h":6.96},{"x":96,"h":7.06},{"x":90,"h":7.16},{"x":86,"h":7.28},{"x":84,"h":7.4},{"x":86,"h":7.52},{"x":88,"h":7.64},{"x":85,"h":7.76},{"x":80,"h":7.88},{"x":76,"h":8.0},{"x":72,"h":8.1},{"x":67,"h":8.2},{"x":62,"h":8.3},{"x":57,"h":8.4},{"x":53,"h":8.5},{"x":51,"h":8.62},{"x":50,"h":8.74},{"x":48,"h":8.86},{"x":46,"h":8.98},{"x":45,"h":9.1},{"x":44,"h":9.22},{"x":42,"h":9.34},{"x":41,"h":9.46},{"x":39,"h":9.58},{"x":37,"h":9.7},{"x":38,"h":9.82},{"x":40,"h":9.94},{"x":41,"h":10.0},
{"x":70,"h":4.7},{"x":78,"h":4.72},{"x":86,"h":4.74},{"x":92,"h":4.75},{"x":80,"h":5.75},{"x":86,"h":5.8},{"x":91,"h":5.85},{"x":88,"h":5.7},{"x":-63,"h":0.9}],
"Po":[
{"x":-12,"h":9.94},{"x":-16,"h":9.75},{"x":-10,"h":9.63},{"x":-19,"h":9.51},{"x":-8,"h":9.44},{"x":-14,"h":9.32},{"x":-16,"h":9.14},{"x":-10,"h":9.01},{"x":-19,"h":8.89},{"x":-6,"h":9.01},{"x":9,"h":8.58},{"x":-10,"h":8.58},{"x":-4,"h":8.4},{"x":-14,"h":8.27},{"x":-25,"h":8.15},{"x":-19,"h":8.09},{"x":-8,"h":8.09},{"x":9,"h":7.96},{"x":20,"h":7.9},{"x":-2,"h":7.84},{"x":-16,"h":7.78},{"x":-34,"h":7.72},{"x":-29,"h":7.65},{"x":-10,"h":7.59},{"x":3,"h":7.53},{"x":-23,"h":7.47},{"x":-8,"h":7.41},{"x":-34,"h":7.35},{"x":11,"h":7.28},{"x":-19,"h":7.22},{"x":-25,"h":7.16},{"x":1,"h":7.16},{"x":31,"h":7.1},{"x":11,"h":7.04},{"x":-10,"h":6.98},{"x":3,"h":6.91},{"x":-27,"h":6.85},{"x":14,"h":6.79},{"x":-14,"h":6.73},{"x":-2,"h":6.67},{"x":9,"h":6.6},{"x":-16,"h":6.48},{"x":-6,"h":6.48},{"x":16,"h":6.36},{"x":5,"h":6.3},{"x":-10,"h":6.23},{"x":-21,"h":6.11},{"x":-4,"h":6.05},{"x":11,"h":5.99},{"x":24,"h":5.8},{"x":37,"h":5.8},{"x":-10,"h":5.74},{"x":3,"h":5.68},{"x":-2,"h":5.56},{"x":9,"h":5.49},{"x":-16,"h":5.43},{"x":-6,"h":5.31},{"x":-27,"h":5.19},{"x":7,"h":5.12},{"x":-12,"h":5.06},{"x":-2,"h":4.94},{"x":-19,"h":4.81},{"x":-8,"h":4.69},{"x":9,"h":4.69},{"x":-16,"h":4.57},{"x":3,"h":4.51},{"x":-10,"h":4.38},{"x":-23,"h":4.32},{"x":11,"h":4.32},{"x":-2,"h":4.2},{"x":-14,"h":4.07},{"x":7,"h":4.01},{"x":-8,"h":3.89},{"x":26,"h":3.83},{"x":14,"h":3.77},{"x":1,"h":3.7},{"x":-12,"h":3.58},{"x":9,"h":3.52},{"x":-6,"h":3.4},{"x":-19,"h":3.27},{"x":3,"h":3.21},{"x":-10,"h":3.09},{"x":11,"h":3.02},{"x":-2,"h":2.96},{"x":-16,"h":2.84},{"x":16,"h":2.84},{"x":-10,"h":2.72},{"x":3,"h":2.65},{"x":-23,"h":2.59},{"x":-6,"h":2.53},{"x":-16,"h":2.41},{"x":1,"h":2.35},{"x":-42,"h":2.16},{"x":-23,"h":2.28},{"x":-10,"h":2.22},{"x":9,"h":2.16},{"x":18,"h":2.1},{"x":-16,"h":2.04},{"x":-27,"h":1.91},{"x":-6,"h":1.98},{"x":-21,"h":1.79},{"x":-29,"h":1.67},{"x":-36,"h":1.54},{"x":-31,"h":1.48},{"x":-42,"h":1.36},{"x":-40,"h":1.23},{"x":-34,"h":1.23},{"x":-46,"h":1.17},{"x":-4,"h":7.0},{"x":6,"h":7.3},{"x":-12,"h":6.9},{"x":4,"h":6.1},{"x":-5,"h":4.8},{"x":0,"h":3.3},{"x":-4,"h":2.8},{"x":6,"h":5.9},{"x":-1,"h":9.2},{"x":-13,"h":8.7}]
}
}
